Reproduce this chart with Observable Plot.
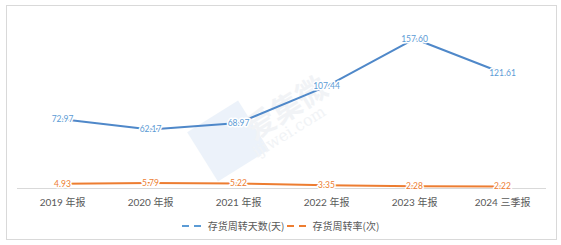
<!DOCTYPE html>
<html>
<head>
<meta charset="utf-8">
<script src="https://cdn.jsdelivr.net/npm/d3@7"></script>
<script src="https://cdn.jsdelivr.net/npm/@observablehq/plot@0.6"></script>
<style>
  html, body { margin: 0; padding: 0; background: #fff; }
  #wrap { position: relative; width: 561px; height: 245px; overflow: hidden; font-family: Lato, "Noto Sans CJK SC", sans-serif; }
  #frame { position: absolute; left: 6px; top: 5px; width: 551px; height: 235px; border: 1px solid #d9d9d9; box-sizing: border-box; }
  #wm { position: absolute; left: 190px; top: 60px; width: 160px; height: 130px; opacity: 0.45; pointer-events: none; }
  #wm .box { position: absolute; left: 8px; top: 52px; width: 60px; height: 58px; background: #d6e4f4; transform: rotate(-32deg); }
  #wm .cn { position: absolute; left: 50px; top: 24px; font-size: 30px; color: #e1e6ec; transform: rotate(-32deg); font-family: "Noto Sans CJK SC"; font-weight: bold; }
  #wm .en { position: absolute; left: 58px; top: 62px; font-size: 16px; color: #e1e6ec; transform: rotate(-32deg); font-family: "DejaVu Serif"; }
  #chart { position: absolute; left: 0; top: 0; }
  #legend { position: absolute; left: 0; top: 218px; width: 561px; display: flex; justify-content: center; align-items: center; font-size: 10px; color: #595959; font-family: "Noto Sans CJK SC", sans-serif; }
  #legend .item { display: flex; align-items: center; margin: 0 1px; }
  #legend svg { margin-right: 4px; }
</style>
</head>
<body>
<div id="wrap">
  <div id="frame"></div>
  <div id="wm"><div class="box"></div><div class="cn">爱集微</div><div class="en">ijiwei.com</div></div>
  <div id="chart"></div>
  <div id="legend"></div>
</div>
<script>
const categories = ["2019 年报", "2020 年报", "2021 年报", "2022 年报", "2023 年报", "2024 三季报"];
const turnoverDays = [72.97, 62.17, 68.97, 107.44, 157.60, 121.61];
const turnoverRate = [4.93, 5.79, 5.22, 3.35, 2.28, 2.22];
const seriesNames = ["存货周转天数(天)", "存货周转率(次)"];
const seriesColors = ["#5b9bd5", "#ed7d31"];
const lineColors = ["#4f88c9", "#ed7d31"];

const rows = [];
[turnoverDays, turnoverRate].forEach((vals, si) => {
  vals.forEach((v, i) => rows.push({ cat: categories[i], value: v, series: seriesNames[si], si }));
});

const marks = [Plot.ruleY([0], { stroke: "#d9d9d9", strokeWidth: 1 })];
seriesNames.forEach((name, si) => {
  const d = rows.filter(r => r.si === si);
  marks.push(Plot.line(d, { x: "cat", y: "value", stroke: lineColors[si], strokeWidth: 2 }));
});
seriesNames.forEach((name, si) => {
  const d = rows.filter(r => r.si === si);
  marks.push(Plot.text(d, {
    x: "cat", y: "value", text: r => r.value.toFixed(2),
    fill: seriesColors[si], fontSize: 8.5, stroke: "white", strokeWidth: 3,
    fontFamily: "Lato, sans-serif"
  }));
});

const chart = Plot.plot({
  width: 561,
  height: 205,
  marginLeft: 17,
  marginRight: 15,
  marginTop: 17,
  marginBottom: 17,
  style: { background: "transparent", fontFamily: "Lato, 'Noto Sans CJK SC', sans-serif", fontSize: "10px", color: "#595959", overflow: "visible" },
  x: { type: "point", domain: categories, padding: 0.5, label: null, tickSize: 0, tickPadding: 10 },
  y: { domain: [0, 180], axis: null },
  marks
});
document.getElementById("chart").appendChild(chart);

const legend = document.getElementById("legend");
seriesNames.forEach((name, si) => {
  const item = document.createElement("div");
  item.className = "item";
  const sw = d3.create("svg").attr("width", 22).attr("height", 10);
  sw.append("line").attr("x1", 0).attr("x2", 22).attr("y1", 5).attr("y2", 5)
    .attr("stroke", seriesColors[si]).attr("stroke-width", 2).attr("stroke-dasharray", "7,5");
  item.appendChild(sw.node());
  const span = document.createElement("span");
  span.textContent = name;
  item.appendChild(span);
  legend.appendChild(item);
});
</script>
</body>
</html>
